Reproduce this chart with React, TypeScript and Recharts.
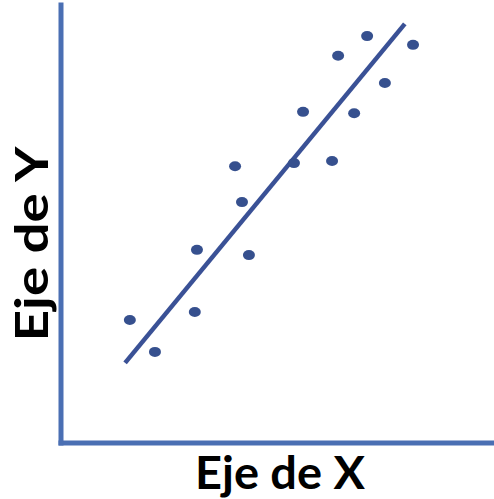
import React from 'react';
import { ScatterChart, Scatter, XAxis, YAxis, ReferenceLine, Label } from 'recharts';

const xValues = [15.9, 21.7, 30.9, 31.4, 40.2, 41.8, 43.4, 53.8, 55.9, 62.6, 64.0, 67.7, 70.7, 74.8, 81.3];
const yValues = [28.1, 20.8, 29.9, 44.1, 63.2, 55.0, 42.9, 63.9, 75.6, 64.4, 88.4, 75.3, 92.9, 82.2, 90.9];
const trendX = [14.8, 79.4];
const trendY = [18.3, 95.7];
const xTitle = 'Eje de X';
const yTitle = 'Eje de Y';

const points = xValues.map((x, i) => ({ x, y: yValues[i] }));

const AXIS_BLUE = '#4a6fb3';
const DOT_BLUE = '#36508e';

const Dot = (props: any) => (
  <ellipse cx={props.cx} cy={props.cy} rx={6} ry={5} fill={DOT_BLUE} />
);

const titleStyle = {
  fontFamily: 'Lato, sans-serif',
  fontWeight: 700,
  fontSize: 46,
  fill: '#000',
};

const XTitle = (props: any) => {
  const { x, y, width } = props.viewBox;
  return (
    <text
      x={x + width / 2 + 2.5}
      y={y + 46}
      textAnchor="middle"
      textLength={170}
      lengthAdjust="spacingAndGlyphs"
      style={titleStyle}
    >
      {xTitle}
    </text>
  );
};

const YTitle = (props: any) => {
  const { x, y, height } = props.viewBox;
  const cx = x + 45;
  const cy = y + height / 2 + 20;
  return (
    <text
      x={cx}
      y={cy}
      transform={`rotate(-90, ${cx}, ${cy})`}
      textAnchor="middle"
      textLength={195}
      lengthAdjust="spacingAndGlyphs"
      style={titleStyle}
    >
      {yTitle}
    </text>
  );
};

export default function App() {
  return (
    <div style={{ position: 'absolute', left: 0, top: 0, background: '#fff' }}>
      <ScatterChart width={494} height={499} margin={{ top: 5, right: 0, bottom: 0, left: 3 }}>
        <XAxis
          type="number"
          dataKey="x"
          domain={[0, 100]}
          height={56}
          tick={false}
          tickLine={false}
          axisLine={{ stroke: AXIS_BLUE, strokeWidth: 5, strokeLinecap: 'square' }}
        >
          <Label content={XTitle} />
        </XAxis>
        <YAxis
          type="number"
          dataKey="y"
          domain={[0, 100]}
          width={58}
          tick={false}
          tickLine={false}
          axisLine={{ stroke: AXIS_BLUE, strokeWidth: 5, strokeLinecap: 'square' }}
        >
          <Label content={YTitle} />
        </YAxis>
        <ReferenceLine
          segment={[
            { x: trendX[0], y: trendY[0] },
            { x: trendX[1], y: trendY[1] },
          ]}
          stroke="#3a5196"
          strokeWidth={4.5}
          ifOverflow="visible"
        />
        <Scatter data={points} shape={Dot} isAnimationActive={false} />
      </ScatterChart>
    </div>
  );
}
